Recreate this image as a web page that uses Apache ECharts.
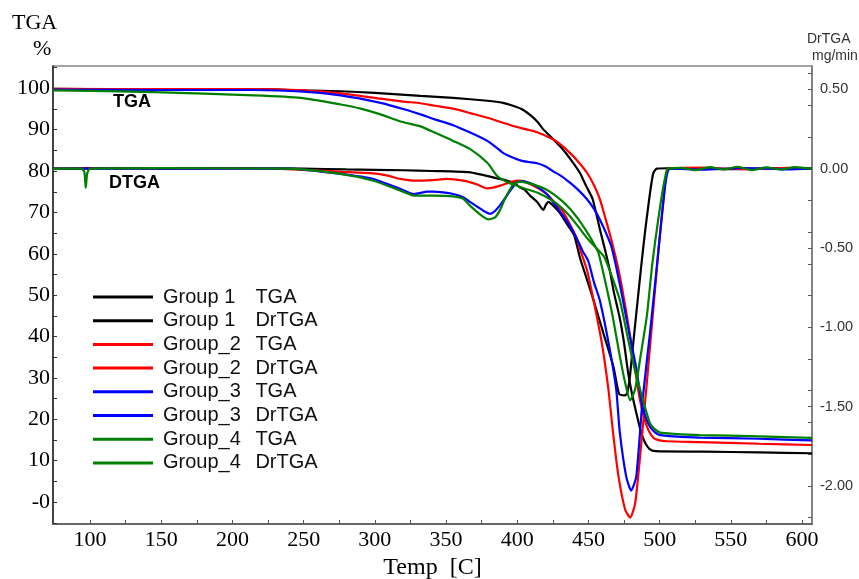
<!DOCTYPE html>
<html><head><meta charset="utf-8">
<script src="https://cdn.jsdelivr.net/npm/echarts@6/dist/echarts.min.js"></script>
<style>html,body{margin:0;padding:0;background:#fff}#c{width:859px;height:579px}</style>
</head><body><div id="c"></div>
<script>
// ---- axis ticks / labels ----
const xTickValues = [100,125,150,175,200,225,250,275,300,325,350,375,400,425,450,475,500,525,550,575,600];
const xLabelValues = [100,150,200,250,300,350,400,450,500,550,600];
const leftTickValues = [-5,0,5,10,15,20,25,30,35,40,45,50,55,60,65,70,75,80,85,90,95,100,105];
const leftLabelValues = [0,10,20,30,40,50,60,70,80,90,100];
const rightTickValues = [0.6,0.5,0.4,0.2,0,-0.2,-0.4,-0.5,-0.6,-0.8,-1,-1.2,-1.4,-1.5,-1.6,-1.8,-2,-2.2];
const rightLabelValues = [0.5,0,-0.5,-1,-1.5,-2];

// ---- series ----
const seriesNames = ['Group 1 TGA','Group 1 DrTGA','Group_2 TGA','Group_2 DrTGA','Group_3 TGA','Group_3 DrTGA','Group_4 TGA','Group_4 DrTGA'];
const seriesColors = ['#000000','#000000','#ff0000','#ff0000','#0000ff','#0000ff','#008000','#008000'];

// [temperature C, TGA %]
const g1Tga = [[74,99.9],[120,99.8],[180,99.8],[215,99.8],[250,99.5],[276,99.3],[300,98.9],[332,98.2],[355,97.7],[379,97.0],[390,96.5],[397,95.8],[403,95.0],[409,93.6],[414,92.0],[418,90.2],[425,87.8],[432,85.3],[438,82.6],[444,79.6],[446.5,77.8],[449,76.0],[453,73.2],[458,66.0],[462,60.5],[465,56.0],[468,50.5],[472,44.5],[475,38.5],[478,31.0],[481,25.5],[484,21.0],[487,16.8],[490,14.2],[493,12.8],[497,12.3],[530,12.2],[570,12.0],[607,11.8]];
const g2Tga = [[74,99.9],[150,99.8],[215,99.8],[250,99.5],[276,98.8],[304,97.5],[320,96.8],[332,96.4],[342,95.8],[355,95.1],[367,94.0],[379,92.9],[390,91.7],[397,90.9],[405,90.2],[414,89.4],[425,87.7],[431,86.3],[437,84.4],[443,82.2],[449,79.6],[454,76.5],[458,73.2],[462,68.5],[466,63.5],[470.6,57.0],[474,51.0],[477,45.0],[480,38.5],[483,31.5],[486,25.0],[489,20.5],[492,17.5],[495.7,15.5],[500,14.9],[505,14.7],[528,14.5],[570,14.1],[607,13.8]];
const g3Tga = [[74,99.7],[150,99.6],[215,99.6],[250,99.2],[276,98.3],[304,96.5],[320,95.0],[332,93.7],[342,92.5],[355,91.1],[367,89.3],[379,87.3],[385,85.8],[390,84.4],[396,83.4],[402,82.6],[408,82.2],[414,81.9],[420,81.1],[425,80.0],[431,78.8],[437,77.2],[443,75.4],[449,73.2],[454,70.8],[458,68.3],[462,65.3],[466,61.9],[469.4,57.0],[473,51.0],[476.3,45.0],[480,38.5],[483.4,32.7],[486,27.0],[488,23.0],[491,19.8],[493.3,18.2],[497,16.8],[500.4,16.2],[510,15.9],[528,15.6],[570,15.3],[607,14.9]];
const g4Tga = [[74,99.5],[145,99.1],[215,98.3],[248,97.7],[276,96.1],[290,95.1],[304,93.7],[318,92.0],[332,90.8],[342,89.3],[355,87.3],[367,85.3],[379,82.0],[386,78.8],[392,77.5],[397,76.8],[405,75.8],[414,74.8],[425,72.8],[431,71.2],[437,69.1],[443,66.5],[449,63.8],[455,61.6],[461,59.3],[466,55.0],[472,48.9],[476,42.5],[481,34.3],[487,26.3],[493.3,19.0],[497,17.5],[500.4,16.8],[510,16.5],[528,16.2],[570,15.9],[607,15.5]];

// [temperature C, DrTGA mg/min]
const g1Dtga = [[74,0],[100,0.003],[150,0],[200,0.004],[250,0],[280,-0.005],[320,-0.01],[340,-0.015],[367,-0.023],[383,-0.055],[393,-0.076],[398,-0.09],[402,-0.12],[405,-0.13],[409,-0.17],[414,-0.21],[418.4,-0.26],[420,-0.23],[422,-0.21],[426,-0.24],[430,-0.28],[435,-0.35],[440,-0.42],[444,-0.56],[449,-0.70],[453.6,-0.83],[460.6,-1.04],[467.6,-1.25],[471.5,-1.42],[475,-1.43],[477,-1.42],[479,-1.32],[481,-1.14],[484,-0.88],[487,-0.62],[490,-0.38],[493,-0.17],[495.5,-0.03],[498,0],[520,0.004],[550,-0.003],[580,0.004],[607,0]];
const g2Dtga = [[74,0],[150,0.003],[230,0],[276,-0.02],[299,-0.03],[309,-0.044],[318,-0.065],[327.5,-0.076],[341,-0.072],[350.5,-0.065],[362,-0.076],[372,-0.10],[378.6,-0.124],[383,-0.12],[388,-0.107],[395,-0.086],[399.7,-0.076],[404,-0.078],[409,-0.097],[415,-0.125],[420.7,-0.16],[426,-0.21],[432.4,-0.275],[437,-0.35],[441.8,-0.44],[444.2,-0.51],[449,-0.64],[453.6,-0.83],[459.4,-1.10],[464,-1.39],[467.6,-1.69],[471.1,-1.94],[475.8,-2.15],[479.3,-2.20],[482.8,-2.11],[486.3,-1.81],[491,-1.35],[495.7,-0.87],[499.2,-0.51],[500.4,-0.40],[502.7,-0.19],[505,-0.01],[507,0],[530,0.006],[560,-0.004],[590,0.005],[607,0]];
const g3Dtga = [[74,0],[150,0],[240,0],[276,-0.033],[299,-0.065],[318,-0.128],[327.5,-0.16],[337,-0.145],[341,-0.145],[348,-0.15],[355,-0.16],[362,-0.18],[366.8,-0.21],[372,-0.24],[376.2,-0.265],[380.9,-0.285],[384,-0.27],[388,-0.23],[392,-0.18],[395,-0.14],[399.7,-0.086],[404,-0.08],[409,-0.09],[415,-0.12],[420.7,-0.16],[426,-0.22],[432.4,-0.30],[437,-0.36],[441.8,-0.44],[446,-0.52],[449.8,-0.58],[454,-0.72],[458,-0.83],[465,-1.14],[469.5,-1.39],[472,-1.66],[476.5,-1.94],[480,-2.03],[483.6,-1.94],[488,-1.46],[493.3,-1.03],[498,-0.62],[501,-0.35],[504,-0.10],[506,-0.01],[508,0],[530,-0.006],[560,0.004],[590,-0.005],[607,0]];
const g4Dtga = [[74,0],[94,0],[96,-0.02],[97,-0.12],[98,-0.03],[100,0],[150,0.003],[240,0],[276,-0.033],[299,-0.076],[318,-0.139],[327.5,-0.17],[341,-0.17],[355,-0.175],[362,-0.19],[366.8,-0.233],[375,-0.296],[379.7,-0.32],[384.4,-0.307],[388,-0.26],[391.4,-0.19],[395,-0.13],[397.3,-0.096],[402,-0.082],[407,-0.09],[413.7,-0.107],[420,-0.13],[425.4,-0.16],[431,-0.20],[437.2,-0.254],[443,-0.32],[449,-0.40],[453,-0.46],[457,-0.53],[462,-0.72],[467,-0.93],[472,-1.18],[475.8,-1.35],[479.3,-1.46],[482.8,-1.39],[486.3,-1.20],[491,-0.93],[494.6,-0.62],[497,-0.45],[501,-0.20],[504,-0.05],[506,0],[515,0.005],[525,-0.01],[535,0.01],[545,-0.005],[555,0.012],[565,-0.01],[575,0.008],[585,-0.006],[595,0.01],[607,0]];

const seriesData = [g1Tga,g1Dtga,g2Tga,g2Dtga,g3Tga,g3Dtga,g4Tga,g4Dtga];

const serif = 'Liberation Serif';
const sans = 'Liberation Sans';

const chart = echarts.init(document.getElementById('c'), null, {renderer:'canvas'});
chart.setOption({
  animation: false,
  backgroundColor: '#ffffff',
  grid: {left: 53, top: 66, right: 47, bottom: 55, show: true, borderColor: '#888', borderWidth: 1.5,
    containLabel: false, outerBoundsMode: 'none'},
  xAxis: {
    type: 'value', min: 74, max: 607,
    name: 'Temp  [C]', nameLocation: 'middle', nameGap: 29,
    nameTextStyle: {fontFamily: serif, fontSize: 24, color: '#000'},
    axisLine: {show: true, onZero: false, lineStyle: {color: '#666', width: 2}},
    axisTick: {show: true, inside: true, length: 4, customValues: xTickValues, lineStyle: {color: '#555'}},
    axisLabel: {customValues: xLabelValues, fontFamily: serif, fontSize: 22, color: '#000', margin: 5},
    splitLine: {show: false}
  },
  yAxis: [
    {
      type: 'value', min: -5.3, max: 105.4, position: 'left',
      axisLine: {show: true, onZero: false, lineStyle: {color: '#222', width: 1.5}},
      axisTick: {show: true, inside: true, length: 4, customValues: leftTickValues, lineStyle: {color: '#333'}},
      axisLabel: {customValues: leftLabelValues, fontFamily: serif, fontSize: 22, color: '#000', margin: 3,
        formatter: v => (v === 0 ? '-0' : String(v))},
      splitLine: {show: false}
    },
    {
      type: 'value', min: -2.24, max: 0.647, position: 'right',
      axisLine: {show: true, onZero: false, lineStyle: {color: '#777', width: 1.5}},
      axisTick: {show: true, inside: true, length: 4, customValues: rightTickValues, lineStyle: {color: '#555'}},
      axisLabel: {customValues: rightLabelValues, fontFamily: sans, fontSize: 14.5, color: '#333', margin: 8,
        formatter: v => v.toFixed(2)},
      splitLine: {show: false}
    }
  ],
  legend: {
    orient: 'vertical', left: 93, top: 287, padding: 0, itemWidth: 60, itemHeight: 3, itemGap: 3.7, icon: 'rect',
    data: seriesNames,
    textStyle: {fontFamily: sans, fontSize: 20, color: '#111', lineHeight: 20,
      rich: {
        s: {width: 5},
        a: {width: 92.4, fontFamily: sans, fontSize: 20, color: '#111', lineHeight: 20},
        b: {fontFamily: sans, fontSize: 20, color: '#111', lineHeight: 20}
      }},
    formatter: function (name) {
      const i = name.lastIndexOf(' ');
      return '{s|}{a|' + name.slice(0, i) + '}{b|' + name.slice(i + 1) + '}';
    }
  },
  graphic: [
    {type: 'text', left: 12, top: 12, style: {text: 'TGA', font: '22px "Liberation Serif"', fill: '#000'}},
    {type: 'text', left: 33, top: 38, style: {text: '%', font: '22px "Liberation Serif"', fill: '#000'}},
    {type: 'text', left: 807, top: 32, style: {text: 'DrTGA', font: '14px "Liberation Sans"', fill: '#333'}},
    {type: 'text', left: 812, top: 49, style: {text: 'mg/min', font: '14px "Liberation Sans"', fill: '#333'}},
    {type: 'text', left: 113, top: 93, style: {text: 'TGA', font: 'bold 18px "Liberation Sans"', fill: '#000'}},
    {type: 'text', left: 109, top: 174, style: {text: 'DTGA', font: 'bold 18px "Liberation Sans"', fill: '#000'}}
  ],
  series: seriesNames.map((n, i) => ({
    name: n, type: 'line', yAxisIndex: i % 2, data: seriesData[i],
    showSymbol: false, symbol: 'none', smooth: 0.2,
    lineStyle: {color: seriesColors[i], width: 2.2},
    itemStyle: {color: seriesColors[i]},
    emphasis: {disabled: true}
  }))
});
</script>
</body></html>
